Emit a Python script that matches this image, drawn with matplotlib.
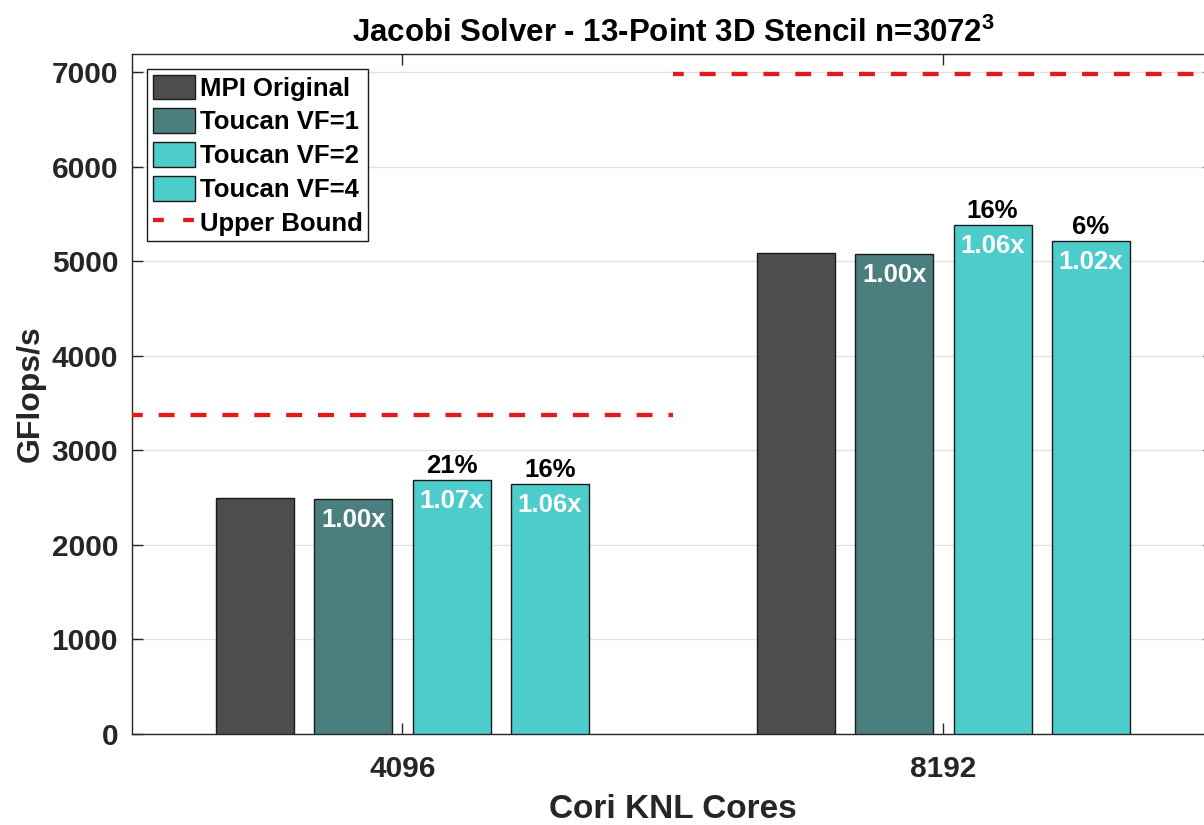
import numpy as np
import matplotlib
matplotlib.use("Agg")
import matplotlib.pyplot as plt
from matplotlib.patches import Patch
from matplotlib.lines import Line2D

plt.rcParams['font.family'] = ['Liberation Sans', 'DejaVu Sans']
plt.rcParams['font.weight'] = 'bold'
plt.rcParams['mathtext.fontset'] = 'custom'
plt.rcParams['mathtext.rm'] = 'Liberation Sans:bold'
plt.rcParams['mathtext.bf'] = 'Liberation Sans:bold'

# Data
core_counts = ["4096", "8192"]
series_names = ["MPI Original", "Toucan VF=1", "Toucan VF=2", "Toucan VF=4"]
mpi_original = [2500, 5088]
toucan_vf1 = [2488, 5074]
toucan_vf2 = [2682, 5384]
toucan_vf4 = [2640, 5215]
upper_bound = [3375, 6980]
speedup_labels = [["1.00x", "1.07x", "1.06x"], ["1.00x", "1.06x", "1.02x"]]
gap_closed_labels = [["21%", "16%"], ["16%", "6%"]]

series = [mpi_original, toucan_vf1, toucan_vf2, toucan_vf4]
colors = ["#4d4d4d", "#4b7e7e", "#4dcccc", "#4dcccc"]
tick_color = "#262626"
bound_color = "#e31a1c"
bound_dash = (1.2, (3.7, 3.7))

fig = plt.figure(figsize=(12.04, 8.25), dpi=100)
ax = fig.add_axes([132 / 1204, 1 - 734 / 825, (1214 - 132) / 1204, (734 - 54) / 825])

x = np.arange(1, len(core_counts) + 1)
width = 0.144
step = 0.1815
offsets = (np.arange(4) - 1.5) * step

for i, (vals, col) in enumerate(zip(series, colors)):
    ax.bar(x + offsets[i], vals, width, color=col, edgecolor="#1a1a1a",
           linewidth=1.0, zorder=3, label=series_names[i])

# Upper bound per core count, spanning each half of the axis
for j, ub in enumerate(upper_bound):
    ax.plot([x[j] - 0.5, x[j] + 0.5], [ub, ub], color=bound_color,
            linewidth=3.1, linestyle=bound_dash, zorder=4)

# Speedup labels inside the Toucan bars, gap-closed percentages above
for j in range(len(core_counts)):
    for k, s in enumerate(series[1:]):
        ax.annotate(speedup_labels[j][k], (x[j] + offsets[k + 1], s[j]),
                    xytext=(0, -6.5), textcoords="offset points",
                    ha="center", va="top", color="white",
                    fontsize=18.5, fontweight="bold", zorder=5)
    for k, s in enumerate(series[2:]):
        ax.annotate(gap_closed_labels[j][k], (x[j] + offsets[k + 2], s[j]),
                    xytext=(0, 1.5), textcoords="offset points",
                    ha="center", va="bottom", color="black",
                    fontsize=18.5, fontweight="bold", zorder=5)

ax.set_xlim(0.5, 2.5)
ax.set_ylim(0, 7190)
ax.set_xticks(x)
ax.set_xticklabels(core_counts)
ax.set_yticks(np.arange(0, 7001, 1000))
ax.yaxis.grid(True, color="#e2e2e2", linewidth=1.0, zorder=0)
ax.set_axisbelow(True)

ax.tick_params(axis="both", direction="in", length=8, width=1, color=tick_color,
               labelsize=21.5, labelcolor=tick_color, top=True, right=True)
ax.tick_params(axis="y", pad=10)
ax.tick_params(axis="x", pad=15)
for lab in ax.get_xticklabels() + ax.get_yticklabels():
    lab.set_fontweight("bold")
for sp in ax.spines.values():
    sp.set_color(tick_color)
    sp.set_linewidth(1.0)

ax.set_xlabel("Cori KNL Cores", fontsize=24, fontweight="bold", color=tick_color, labelpad=8)
ax.set_ylabel("GFlops/s", fontsize=23, fontweight="bold", color=tick_color, labelpad=4)
ax.set_title(r"Jacobi Solver - 13-Point 3D Stencil n=3072$^{3}$", fontsize=22.5,
             fontweight="bold", color="black", pad=9, x=(673 - 132) / (1214 - 132))

handles = [Patch(facecolor=c, edgecolor="#1a1a1a", linewidth=1.0) for c in colors]
handles.append(Line2D([0], [0], color=bound_color, linewidth=3.1, linestyle=(0, (2.5, 4.5))))
labels = series_names + ["Upper Bound"]
leg = ax.legend(handles, labels, loc="upper left", fontsize=18.5, frameon=True,
                fancybox=False, framealpha=1, edgecolor="#1a1a1a",
                handlelength=1.65, handleheight=1.1, labelspacing=0.3,
                handletextpad=0.18, borderpad=0.2, borderaxespad=0.6)
leg.get_frame().set_linewidth(1.0)
for t in leg.get_texts():
    t.set_fontweight("bold")

fig.savefig("out.png", dpi=100)
